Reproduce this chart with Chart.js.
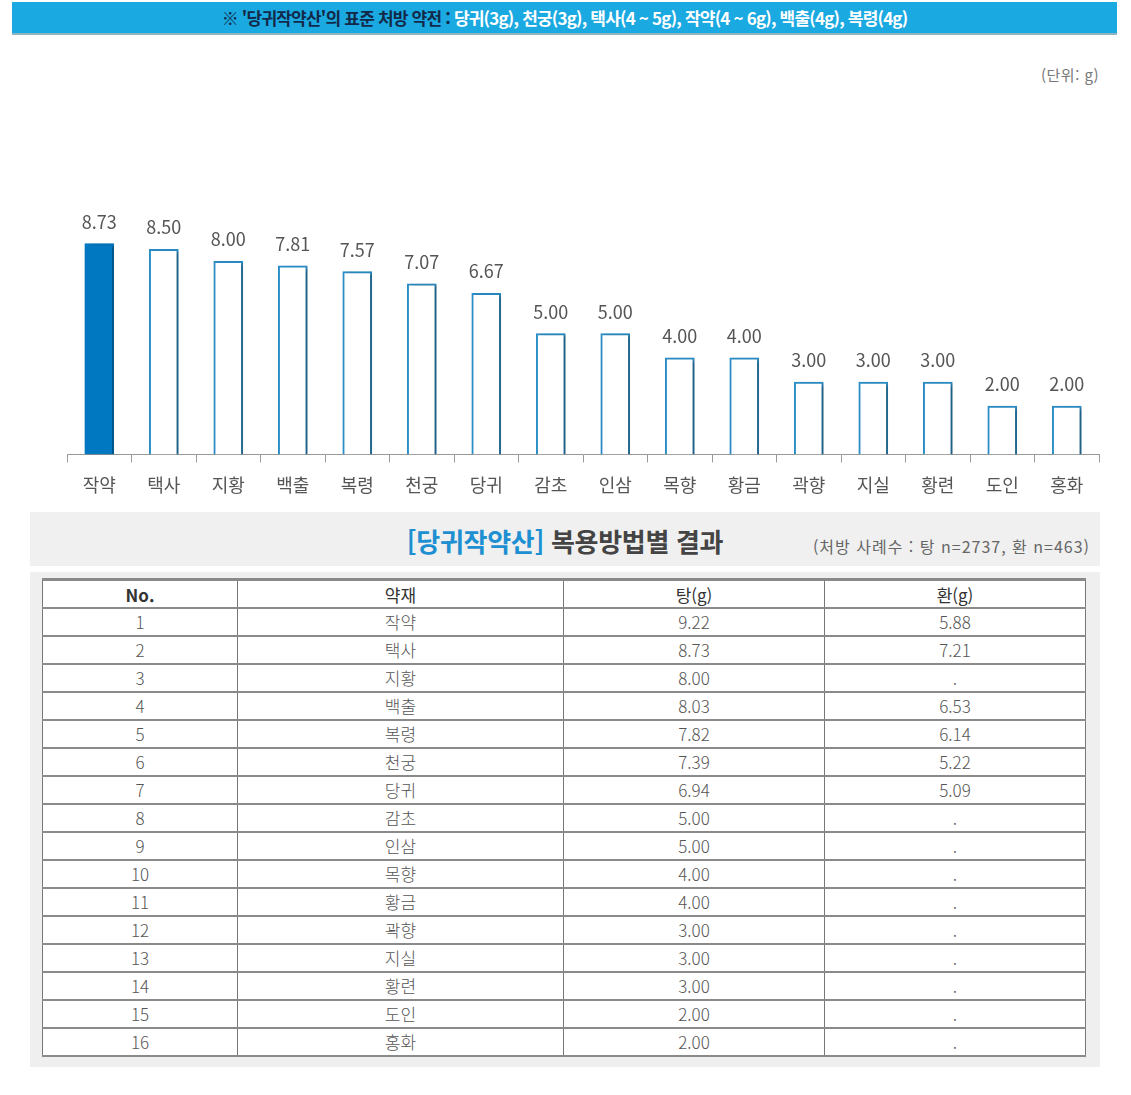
<!DOCTYPE html>
<html lang="ko">
<head>
<meta charset="utf-8">
<script src="https://cdn.jsdelivr.net/npm/chart.js@4.4.1/dist/chart.umd.min.js"></script>
<style>
  body { margin: 0; background: #fff; font-family: 'Noto Sans CJK KR', sans-serif; }
  #page { position: relative; width: 1131px; height: 1095px; overflow: hidden; }
  #banner {
    position: absolute; left: 12px; top: 2px; width: 1105px; height: 31px;
    background: #1ba9e1; border-bottom: 2px solid #8fb4c4;
    text-align: center; line-height: 31px; font-size: 17px; font-weight: bold;
    color: #fff; letter-spacing: -0.8px;
  }
  #banner .dark { color: #13294a; }
  #unit { position: absolute; left: 1041px; top: 64px; font-size: 15px; color: #777; letter-spacing: 0.5px; }
  #chartBox { position: absolute; left: 57px; top: 190px; width: 1052px; height: 325px; }
  #band {
    position: absolute; left: 30px; top: 512px; width: 1070px; height: 54px; background: #f0f0f0;
  }
  #band .title {
    position: absolute; left: 0; width: 1070px; top: 10px; text-align: center;
    font-size: 26px; font-weight: bold; color: #444; letter-spacing: -0.3px;
  }
  #band .title span { color: #1e8fd0; }
  #band .note { position: absolute; right: 10px; top: 22px; font-size: 16px; color: #666; letter-spacing: 1px; }
  #tableBox {
    position: absolute; left: 30px; top: 572px; width: 1070px; height: 495px; background: #efefef;
  }
  table {
    position: absolute; left: 12px; top: 6px; width: 1043px; border-collapse: collapse;
    background: #fff; font-size: 17px; color: #555; table-layout: fixed; font-weight: 300;
  }
  th, td { text-align: center; padding: 0; border-left: 1px solid #777; border-right: 1px solid #777; }
  th { height: 26px; font-weight: normal; color: #333; border-top: 3px solid #8a8a8a; border-bottom: 2px solid #8a8a8a; }
  td { height: 26px; border-bottom: 2px solid #8a8a8a; line-height: 26px; }
</style>
</head>
<body>
<div id="page">
  <div id="banner"><span class="dark">※ '당귀작약산'의 표준 처방 약전 : </span>당귀(3g), 천궁(3g), 택사(4 ~ 5g), 작약(4 ~ 6g), 백출(4g), 복령(4g)</div>
  <div id="unit">(단위: g)</div>
  <div id="chartBox"><canvas id="chart"></canvas></div>
  <div id="band">
    <div class="title"><span>[당귀작약산]</span> 복용방법별 결과</div>
    <div class="note">(처방 사례수 : 탕 n=2737, 환 n=463)</div>
  </div>
  <div id="tableBox">
    <table id="doseTable">
      <colgroup><col style="width:195px"><col style="width:326px"><col style="width:261px"><col style="width:261px"></colgroup>
      <thead><tr><th><b>No.</b></th><th>약재</th><th>탕(g)</th><th>환(g)</th></tr></thead>
      <tbody id="tableBody"></tbody>
    </table>
  </div>
</div>
<script>
const herbs = ['작약', '택사', '지황', '백출', '복령', '천궁', '당귀', '감초', '인삼', '목향', '황금', '곽향', '지실', '황련', '도인', '홍화'];
const avgDose = [8.73, 8.50, 8.00, 7.81, 7.57, 7.07, 6.67, 5.00, 5.00, 4.00, 4.00, 3.00, 3.00, 3.00, 2.00, 2.00];
const tangDose = [9.22, 8.73, 8.00, 8.03, 7.82, 7.39, 6.94, 5.00, 5.00, 4.00, 4.00, 3.00, 3.00, 3.00, 2.00, 2.00];
const hwanDose = [5.88, 7.21, null, 6.53, 6.14, 5.22, 5.09, null, null, null, null, null, null, null, null, null];

const tbody = document.getElementById('tableBody');
herbs.forEach((h, i) => {
  const tr = document.createElement('tr');
  tr.innerHTML = `<td>${i + 1}</td><td>${h}</td><td>${tangDose[i].toFixed(2)}</td><td>${hwanDose[i] == null ? '.' : hwanDose[i].toFixed(2)}</td>`;
  tbody.appendChild(tr);
});

Chart.defaults.font.family = "'Noto Sans CJK KR', sans-serif";

// shadow behind the bars + value labels on top
const barExtras = {
  id: 'barExtras',
  beforeDatasetsDraw(chart) {
    const ctx = chart.ctx;
    ctx.save();
    ctx.shadowColor = 'rgba(0,0,0,0.35)';
    ctx.shadowBlur = 3;
    ctx.shadowOffsetX = 3;
    ctx.shadowOffsetY = 1;
  },
  afterDatasetsDraw(chart) {
    const ctx = chart.ctx;
    ctx.restore();
    ctx.save();
    ctx.font = "18px 'Noto Sans CJK KR', sans-serif";
    ctx.fillStyle = '#555';
    ctx.textAlign = 'center';
    ctx.textBaseline = 'middle';
    chart.getDatasetMeta(0).data.forEach((bar, i) => {
      ctx.fillText(avgDose[i].toFixed(2), bar.x, bar.y - 22);
    });
    ctx.restore();
  }
};

new Chart(document.getElementById('chart'), {
  type: 'bar',
  data: {
    labels: herbs,
    datasets: [{
      data: avgDose,
      backgroundColor: herbs.map((h, i) => i === 0 ? '#0078c1' : '#ffffff'),
      borderColor: herbs.map((h, i) => i === 0 ? '#0078c1' : '#2a8dc5'),
      borderWidth: 2,
      barThickness: 29
    }]
  },
  options: {
    responsive: true,
    maintainAspectRatio: false,
    animation: false,
    layout: { padding: { top: 23, bottom: 7, left: 10, right: 10 } },
    plugins: { legend: { display: false }, tooltip: { enabled: false } },
    scales: {
      x: {
        grid: { display: true, drawOnChartArea: false, tickLength: 8, color: '#999' },
        border: { display: true, color: '#999' },
        ticks: { color: '#555', font: { size: 18 }, padding: 12 }
      },
      y: { display: false, min: 0, max: 10 }
    }
  },
  plugins: [barExtras]
});
</script>
</body>
</html>
